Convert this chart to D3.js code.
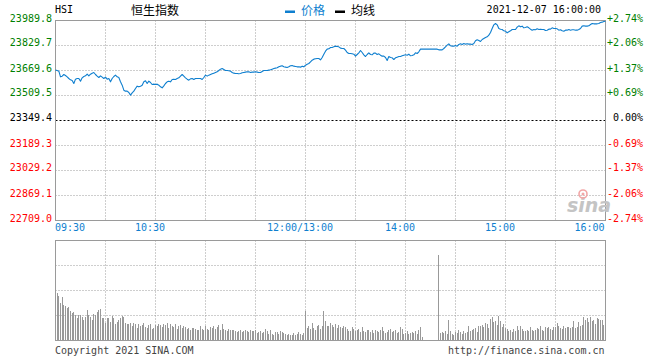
<!DOCTYPE html>
<html><head><meta charset="utf-8">
<script src="https://cdn.jsdelivr.net/npm/d3@7"></script>
<style>
html,body{margin:0;padding:0;background:#fff;}
svg{display:block;}
text{font-family:"DejaVu Sans Mono","Liberation Mono",monospace;font-size:10px;}
.cjk{font-family:"Noto Sans CJK SC","Noto Sans",sans-serif;font-size:12px;}
</style></head>
<body>
<svg id="c" width="660" height="360"></svg>
<script>
const symbol = "HSI";
const title = "恒生指数";
const legendNames = ["价格", "均线"];
const dateText = "2021-12-07 16:00:00";
const prevClose = 23349.4;
const priceTicks = [22709.0, 22869.1, 23029.2, 23189.3, 23349.4, 23509.5, 23669.6, 23829.7, 23989.8];
const pctLabels = ["-2.74%", "-2.06%", "-1.37%", "-0.69%", "0.00%", "+0.69%", "+1.37%", "+2.06%", "+2.74%"];
const timeLabels = ["09:30", "10:30", "12:00/13:00", "14:00", "15:00", "16:00"];
const timeLabelSlots = [0, 60, 150, 210, 270, 330];
const totalSlots = 330;
const copyright = "Copyright 2021 SINA.COM";
const siteUrl = "http://finance.sina.com.cn";
const watermark = "sina";

// one price per minute slot (09:30-12:00, 13:00-16:00)
const prices = [
23671.8,23669.6,23665.4,23629.1,23633.4,23644.0,23637.6,23629.1,23618.4,23609.9,
23605.6,23586.4,23614.1,23618.4,23618.4,23601.3,23622.7,23631.2,23635.5,23646.2,
23635.5,23646.2,23652.6,23656.8,23644.0,23633.4,23624.8,23635.5,23626.9,23618.4,
23626.9,23614.1,23618.4,23597.1,23618.4,23631.2,23639.8,23629.1,23624.8,23597.1,
23575.7,23543.7,23537.3,23537.3,23528.8,23511.7,23526.6,23537.3,23554.4,23569.3,
23565.0,23569.3,23575.7,23597.1,23603.5,23586.4,23601.3,23592.8,23580.0,23582.1,
23580.0,23582.1,23575.7,23565.0,23558.6,23571.4,23586.4,23597.1,23601.3,23597.1,
23612.0,23614.1,23612.0,23618.4,23622.7,23633.4,23644.0,23633.4,23622.7,23614.1,
23607.7,23616.3,23618.4,23612.0,23618.4,23618.4,23618.4,23618.4,23612.0,23624.8,
23639.8,23633.4,23639.8,23644.0,23648.3,23652.6,23656.8,23661.1,23669.6,23678.2,
23682.5,23676.0,23669.6,23669.6,23667.5,23665.4,23656.8,23652.6,23650.4,23650.4,
23648.3,23650.4,23654.7,23656.8,23659.0,23661.1,23661.1,23656.8,23659.0,23659.0,
23661.1,23659.0,23656.8,23656.8,23663.2,23669.6,23669.6,23669.6,23671.8,23673.9,
23678.2,23682.5,23684.6,23686.7,23693.1,23697.4,23699.5,23693.1,23691.0,23688.9,
23693.1,23699.5,23701.7,23697.4,23695.3,23693.1,23693.1,23691.0,23697.4,23693.1,
23703.8,23710.2,23714.5,23725.1,23735.8,23742.2,23744.4,23746.5,23746.5,23738.0,
23752.9,23774.2,23793.5,23806.3,23808.4,23816.9,23816.9,23821.2,23825.5,23823.3,
23821.2,23812.7,23810.5,23810.5,23799.9,23784.9,23778.5,23778.5,23776.4,23774.2,
23761.4,23772.1,23782.8,23797.7,23784.9,23770.0,23759.3,23772.1,23782.8,23772.1,
23770.0,23780.6,23780.6,23772.1,23776.4,23767.8,23761.4,23761.4,23752.9,23733.7,
23759.3,23752.9,23750.8,23740.1,23750.8,23755.0,23759.3,23759.3,23763.6,23767.8,
23770.0,23767.8,23774.2,23763.6,23765.7,23770.0,23782.8,23778.5,23789.2,23806.3,
23806.3,23806.3,23806.3,23806.3,23806.3,23806.3,23806.3,23806.3,23806.3,23806.3,
23802.0,23802.0,23802.0,23810.5,23821.2,23831.9,23840.4,23827.6,23825.5,23825.5,
23829.7,23825.5,23836.2,23840.4,23836.2,23842.6,23838.3,23840.4,23838.3,23838.3,
23836.2,23842.6,23859.6,23866.0,23861.8,23855.4,23868.2,23874.6,23881.0,23885.2,
23895.9,23913.0,23938.6,23962.1,23970.6,23962.1,23938.6,23934.3,23932.2,23923.7,
23921.5,23910.9,23917.3,23923.7,23932.2,23932.2,23932.2,23947.1,23955.7,23949.3,
23953.6,23942.9,23945.0,23949.3,23942.9,23934.3,23927.9,23932.2,23930.1,23936.5,
23932.2,23934.3,23932.2,23932.2,23925.8,23927.9,23934.3,23934.3,23942.9,23938.6,
23938.6,23936.5,23927.9,23930.1,23923.7,23921.5,23927.9,23927.9,23932.2,23927.9,
23930.1,23930.1,23927.9,23927.9,23932.2,23938.6,23953.6,23955.7,23953.6,23953.6,
23955.7,23964.2,23970.6,23968.5,23968.5,23968.5,23970.6,23977.0,23979.2,23983.4,
23985.5
];

// volume per minute slot (relative units, panel full scale = 100)
const volumes = [
54,47,44,37,43,35,34,32,33,29,
27,28,25,22,25,25,23,20,23,30,
25,23,20,26,25,28,30,31,22,22,
17,22,22,18,24,22,16,18,20,22,
24,23,17,16,16,17,14,17,16,12,
16,14,15,17,13,12,15,16,11,12,
15,14,16,15,13,16,15,17,12,16,
14,13,16,11,14,15,12,14,13,11,
12,10,12,12,11,10,10,14,11,10,
14,11,10,13,12,14,11,13,15,10,
16,11,10,9,11,10,10,10,9,8,
9,10,8,9,10,9,8,10,9,9,
10,7,8,9,7,8,11,9,6,10,
6,5,8,8,6,9,8,7,6,5,
6,5,5,7,5,6,8,6,5,7,
29,
12,14,11,17,12,10,14,15,11,14,
29,19,14,14,
17,15,13,16,12,15,13,12,14,13,
11,9,9,13,11,9,10,11,8,13,
9,8,10,10,8,10,7,10,9,8,
10,13,9,7,8,10,11,8,9,10,
7,8,13,11,6,7,9,6,7,8,
7,9,6,10,13,3,
0,0,0,0,0,0,0,0,0,
85,
7,8,7,9,6,20,9,6,5,8,
7,10,8,6,9,7,8,14,9,10,
11,12,8,14,14,15,13,17,16,12,
21,23,18,19,15,24,19,13,16,12,
11,9,10,8,11,9,14,10,14,11,
9,9,10,9,13,10,9,10,12,11,
14,10,9,13,12,13,11,10,13,13,
17,14,12,11,14,12,13,13,12,13,
19,12,13,18,14,15,23,20,22,18,
23,19,20,16,22,21,20,20,15,28
];
const volumeTicks = [25, 50, 75];

const svg = d3.select("#c");
const X0 = 55.5, X1 = 605.5;
const x = d3.scaleLinear().domain([0, totalSlots]).range([X0, X1]);
const y = d3.scaleLinear().domain([priceTicks[0], priceTicks[priceTicks.length - 1]]).range([220.5, 20.5]);
const yv = d3.scaleLinear().domain([0, 100]).range([340.5, 240.5]);
const gridSlots = d3.range(0, totalSlots + 1, 30);

const GRID = "#9c9c9c", BORDER = "#9a9a9a", BLUE = "#0f7fcf";
const px = v => Math.round(v - 0.5) + 0.5;

// ---- main panel grid ----
const g = svg.append("g");
g.selectAll(".hg").data(priceTicks.slice(1, -1).filter(v => v !== prevClose)).enter().append("line")
  .attr("x1", X0).attr("x2", X1).attr("y1", d => px(y(d))).attr("y2", d => px(y(d)))
  .attr("stroke", GRID).attr("stroke-dasharray", "1,2");
g.selectAll(".vg").data(gridSlots.slice(1, -1)).enter().append("line")
  .attr("x1", d => px(x(d))).attr("x2", d => px(x(d)))
  .attr("y1", 20.5).attr("y2", 220.5)
  .attr("stroke", GRID).attr("stroke-dasharray", "1,2");
g.append("line").attr("x1", X0).attr("x2", X1)
  .attr("y1", px(y(prevClose))).attr("y2", px(y(prevClose)))
  .attr("stroke", "#000").attr("stroke-dasharray", "2,2");
g.append("rect").attr("x", X0).attr("y", 20.5).attr("width", X1 - X0).attr("height", 200)
  .attr("fill", "none").attr("stroke", BORDER);

// ---- sina watermark ----
const wm = svg.append("g");
wm.append("text").attr("x", 567).attr("y", 212)
  .style("font-family", "'DejaVu Sans', sans-serif").style("font-size", "19px")
  .style("font-style", "italic").style("font-weight", "bold")
  .attr("fill", "#c4c4c4").text(watermark);
wm.append("circle").attr("cx", 583).attr("cy", 194).attr("r", 4).attr("fill", "none")
  .attr("stroke", "#f2a6a6").attr("stroke-width", 1.6);
wm.append("circle").attr("cx", 583).attr("cy", 194).attr("r", 1.5).attr("fill", "#f2a6a6");

// ---- price line ----
const line = d3.line().x((d, i) => x(i)).y(d => y(d));
svg.append("path").datum(prices).attr("d", line).attr("fill", "none")
  .attr("stroke", BLUE).attr("stroke-width", 1.1).attr("stroke-linejoin", "round");

// ---- axis labels ----
const colorFor = v => v > prevClose ? "#008000" : (v < prevClose ? "#ff0000" : "#000");
svg.selectAll(".ly").data(priceTicks).enter().append("text")
  .attr("x", 52).attr("y", d => Math.round(y(d)) + 1).attr("text-anchor", "end")
  .attr("fill", colorFor).text(d => d.toFixed(1));
svg.selectAll(".ry").data(priceTicks).enter().append("text")
  .attr("x", 643).attr("y", d => Math.round(y(d)) + 1).attr("text-anchor", "end")
  .attr("fill", colorFor).text((d, i) => pctLabels[i]);
svg.selectAll(".tx").data(timeLabelSlots).enter().append("text")
  .attr("x", (d, i) => i === 0 ? x(d) - 0.5 : (i === timeLabelSlots.length - 1 ? x(d) - 1 : x(d) - 5.5))
  .attr("y", 231)
  .attr("text-anchor", (d, i) => i === 0 ? "start" : (i === timeLabelSlots.length - 1 ? "end" : "middle"))
  .attr("fill", BLUE).text((d, i) => timeLabels[i]);

// ---- header ----
svg.append("text").attr("x", 55).attr("y", 12.5).attr("fill", "#000").text(symbol);
svg.append("text").attr("class", "cjk").attr("x", 131).attr("y", 14.5).attr("fill", "#000").text(title);
svg.append("rect").attr("x", 285).attr("y", 10.5).attr("width", 10).attr("height", 2.5).attr("fill", BLUE);
svg.append("text").attr("class", "cjk").attr("x", 301).attr("y", 14.5).attr("fill", BLUE).text(legendNames[0]);
svg.append("rect").attr("x", 335).attr("y", 10.5).attr("width", 10).attr("height", 2.5).attr("fill", "#000");
svg.append("text").attr("class", "cjk").attr("x", 351).attr("y", 14.5).attr("fill", "#000").text(legendNames[1]);
svg.append("text").attr("x", 601).attr("y", 12.5).attr("text-anchor", "end").attr("fill", "#000").text(dateText);

// ---- volume panel ----
const vg = svg.append("g");
vg.selectAll(".vh").data(volumeTicks).enter().append("line")
  .attr("x1", X0).attr("x2", X1).attr("y1", d => yv(d)).attr("y2", d => yv(d))
  .attr("stroke", GRID).attr("stroke-dasharray", "1,2");
vg.selectAll(".vv").data(gridSlots.slice(1, -1)).enter().append("line")
  .attr("x1", d => px(x(d))).attr("x2", d => px(x(d)))
  .attr("y1", 240.5).attr("y2", 340.5)
  .attr("stroke", GRID).attr("stroke-dasharray", "1,2");
vg.selectAll(".bar").data(volumes).enter().append("rect")
  .attr("x", (d, i) => Math.round(x(i) - 0.5)).attr("width", 1)
  .attr("y", d => yv(d) - 0.5).attr("height", d => 340.5 - yv(d))
  .attr("fill", "#999");
vg.append("rect").attr("x", X0).attr("y", 240.5).attr("width", X1 - X0).attr("height", 100)
  .attr("fill", "none").attr("stroke", BORDER);

// ---- footer ----
svg.append("text").attr("x", 55).attr("y", 353.5).attr("fill", "#444").text(copyright);
svg.append("text").attr("x", 604.5).attr("y", 353.5).attr("text-anchor", "end").attr("fill", "#444").text(siteUrl);
</script>
</body></html>
